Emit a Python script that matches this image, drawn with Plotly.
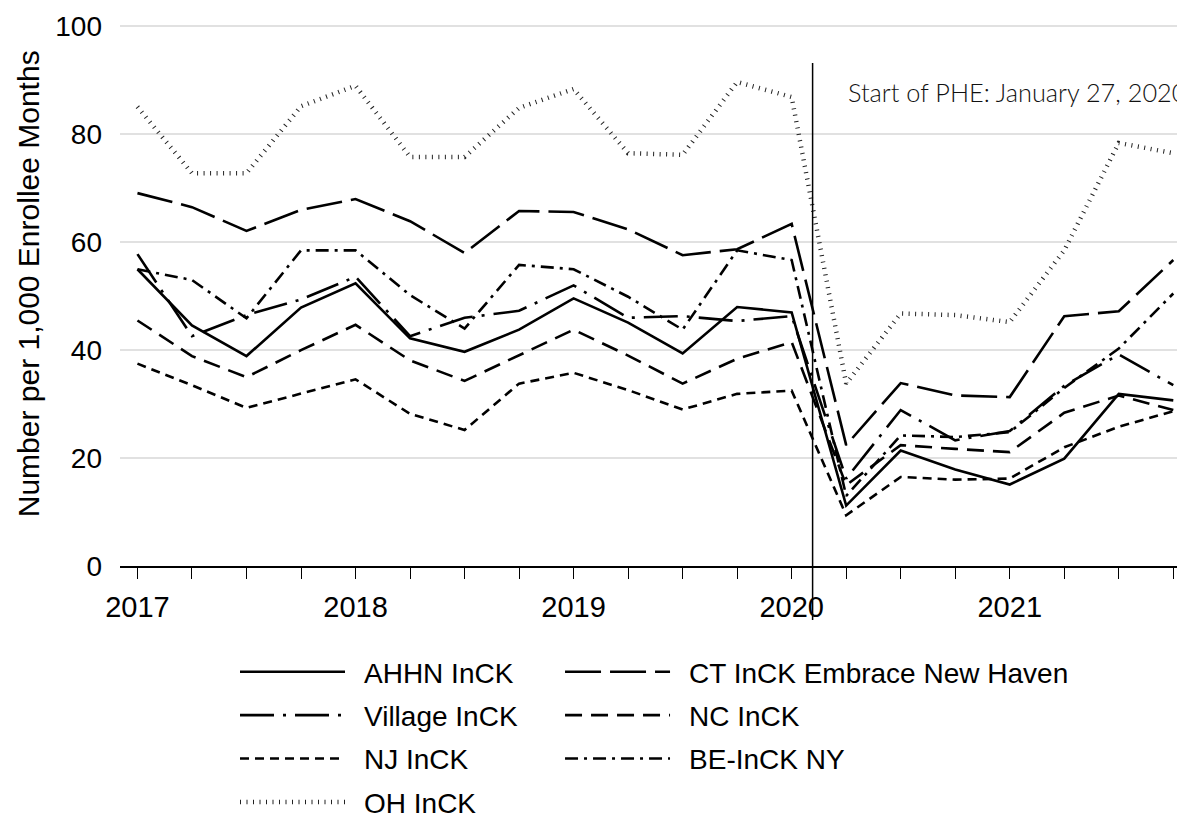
import plotly.graph_objects as go

# Quarterly rates, 2017 Q1 through 2021 Q4
years = [2017, 2018, 2019, 2020, 2021]
year_labels = ["2017", "2018", "2019", "2020", "2021"]
quarters = [y + q / 4 for y in years for q in range(4)]

ahhn = [55.0, 44.6, 38.9, 47.9, 52.4, 42.2, 39.7, 43.8, 49.6, 45.1,
        39.4, 48.0, 47.0, 11.2, 21.4, 17.9, 15.1, 19.9, 31.9, 30.7]
ct = [69.1, 66.5, 62.1, 66.0, 68.0, 63.9, 58.0, 65.8, 65.6, 62.4,
      57.6, 58.7, 63.4, 22.4, 33.9, 31.6, 31.3, 46.3, 47.2, 56.7]
village = [57.8, 42.6, 46.5, 49.4, 53.6, 42.6, 46.0, 47.3, 52.0, 46.0,
           46.3, 45.4, 46.3, 16.2, 28.9, 23.3, 25.0, 33.4, 39.2, 33.5]
nc = [45.5, 38.9, 35.0, 40.0, 44.7, 38.1, 34.3, 39.0, 43.8, 39.0,
      33.8, 38.4, 41.5, 15.0, 22.4, 21.7, 21.1, 28.4, 31.6, 28.9]
nj = [37.5, 33.5, 29.3, 31.9, 34.6, 28.2, 25.2, 33.8, 35.8, 32.6,
      29.0, 31.9, 32.5, 9.4, 16.5, 16.0, 16.2, 22.0, 25.8, 28.7]
be_ny = [55.0, 53.0, 45.9, 58.5, 58.5, 50.2, 44.0, 55.8, 55.0, 49.9,
         43.8, 58.5, 56.7, 13.0, 24.2, 23.9, 24.8, 33.0, 40.3, 50.5]
oh = [85.1, 72.8, 72.8, 85.2, 89.0, 75.8, 75.8, 84.9, 88.4, 76.5,
      76.2, 89.7, 86.9, 33.8, 46.8, 46.5, 45.2, 58.5, 78.4, 76.5]

y_ticks = [0, 20, 40, 60, 80, 100]
y_title = "Number per 1,000 Enrollee Months"
phe_start = 2020.096
phe_label = "Start of PHE: January 27, 2020"

SANS = "Liberation Sans, Arial, sans-serif"
SP = "\u2002"

# name, values, dash, width, colour, legend
series = [
    ("AHHN InCK", ahhn, "solid", 2.6, "#000000", "legend"),
    ("CT InCK Embrace New Haven", ct, "36px,9px", 2.6, "#000000", "legend2"),
    ("Village InCK", village, "34px,9px,3px,9px", 2.6, "#000000", "legend"),
    ("NC InCK", nc, "17px,9px", 2.6, "#000000", "legend2"),
    ("NJ InCK", nj, "9px,6px", 2.6, "#000000", "legend"),
    ("BE-InCK NY", be_ny, "13px,6px,3px,6px", 2.6, "#000000", "legend2"),
    ("OH InCK", oh, "1px,5.5px", 4.5, "#222222", "legend"),
]

fig = go.Figure()
for name, vals, dash, width, color, leg in series:
    fig.add_trace(go.Scatter(
        x=quarters, y=vals, mode="lines", name=SP + name,
        legend=leg, legendgroup=name,
        line=dict(color=color, width=width, dash=dash),
        hoverinfo="skip",
    ))

legend_common = dict(
    orientation="v", xanchor="left", yanchor="top",
    font=dict(family=SANS, size=28, color="#000000"),
    itemwidth=105, traceorder="grouped", tracegroupgap=4,
    bgcolor="rgba(0,0,0,0)",
)

fig.update_layout(
    width=1177, height=815,
    margin=dict(l=120, r=0, t=21, b=249, autoexpand=False),
    paper_bgcolor="white", plot_bgcolor="white",
    font=dict(family=SANS, size=28, color="#000000"),
    legend=dict(x=0.1088, y=-0.1486, **legend_common),
    legend2=dict(x=0.4163, y=-0.1486, **legend_common),
    xaxis=dict(
        range=[2016.92, 2021.767], showgrid=False, zeroline=False,
        automargin=False,
        showline=True, linecolor="#000000", linewidth=1.5,
        tickmode="array", tickvals=years, ticktext=year_labels,
        ticks="outside", ticklen=11, tickwidth=1.3, tickcolor="#000000",
        minor=dict(dtick=0.25, tick0=2017, ticks="outside", ticklen=11,
                   tickwidth=1.3, tickcolor="#000000", showgrid=False),
        tickfont=dict(family=SANS, size=29, color="#000000"),
        ticklabelstandoff=3,
    ),
    yaxis=dict(
        range=[0, 101], tickvals=y_ticks, showline=False, zeroline=False,
        automargin=False,
        showgrid=True, gridcolor="#e1e1e1", gridwidth=1.6, ticks="",
        tickfont=dict(family=SANS, size=28, color="#000000"),
        ticklabelstandoff=17,
    ),
    showlegend=True,
)

fig.add_annotation(x=-0.087, y=0.517, xref="paper", yref="paper",
                   xanchor="center", yanchor="middle", showarrow=False,
                   textangle=-90, text=y_title,
                   font=dict(family=SANS, size=30, color="#000000"))

fig.add_shape(type="line", xref="x", yref="paper",
              x0=phe_start, x1=phe_start, y0=-0.099, y1=0.923,
              line=dict(color="#000000", width=1.5))

fig.add_annotation(x=2020.25, y=87.9, xref="x", yref="y",
                   xanchor="left", yanchor="middle", showarrow=False,
                   text=phe_label,
                   font=dict(family="Lato, sans-serif", size=25.3,
                             weight=300, color="#111111"))

fig.write_html("out.html")
